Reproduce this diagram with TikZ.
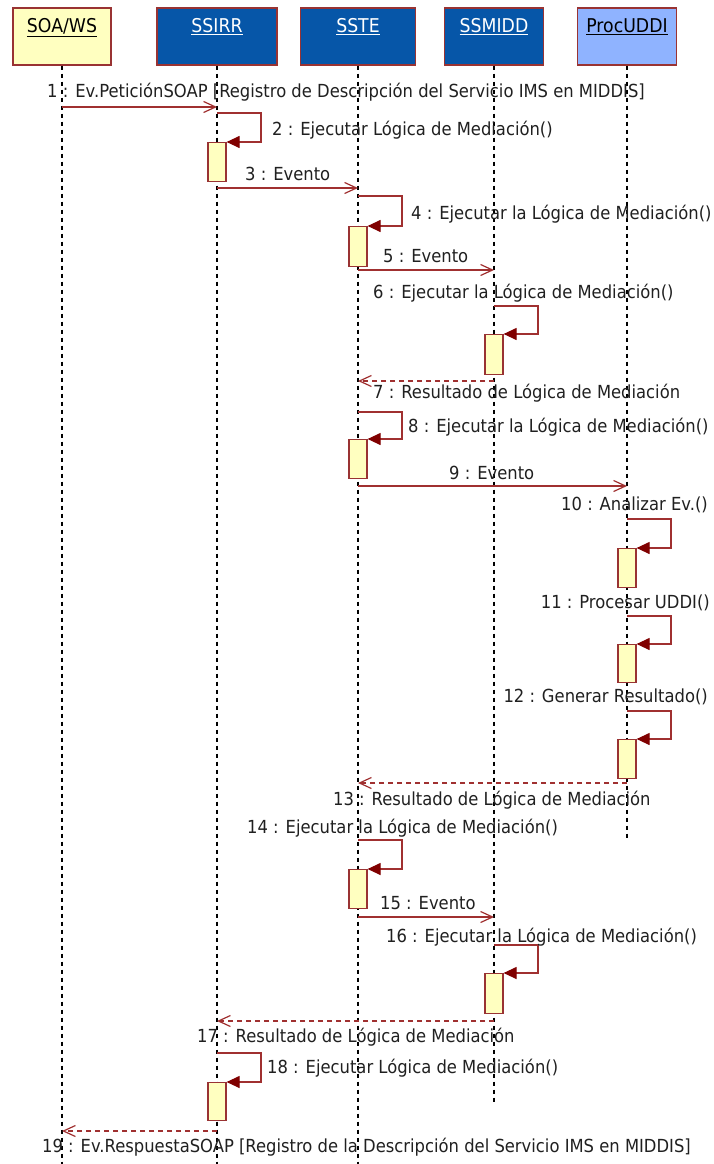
\documentclass[tikz,border=0pt]{standalone}
\usepackage{fontspec}
\setmainfont{DejaVu Sans}[FakeStretch=0.91]
\usetikzlibrary{arrows.meta}

\definecolor{boxline}{HTML}{993333}
\definecolor{msgline}{HTML}{A03030}
\definecolor{tipfill}{HTML}{800000}
\definecolor{actfill}{HTML}{FFFFC0}
\definecolor{navyfill}{HTML}{0656A8}
\definecolor{skyfill}{HTML}{8FB3FF}
\definecolor{labeltext}{HTML}{202020}

\begin{document}
\begin{tikzpicture}[x=1pt,y=-1pt,
  txt/.style={font=\fontsize{18}{20}\selectfont, inner sep=0pt},
  head/.style={draw=boxline, line width=1.2pt, minimum height=57pt, inner sep=0pt},
  headname/.style={font=\fontsize{19}{21}\selectfont, inner sep=0pt, anchor=base},
  lifeline/.style={draw=black, line width=1.1pt, dash pattern=on 4pt off 4pt},
  act/.style={draw=boxline, fill=actfill, line width=1.2pt, minimum width=18pt, inner sep=0pt, anchor=north},
  msg/.style={draw=msgline, line width=1.2pt, -{Straight Barb[length=12pt,width=11pt]}},
  ret/.style={msg, dash pattern=on 5pt off 4pt},
  selfcall/.style={draw=msgline, line width=1.2pt, -{Triangle[length=13pt,width=12pt,color=tipfill,fill=tipfill]}},
  lbl/.style={txt, text=labeltext, anchor=base west},
  lblr/.style={txt, text=labeltext, anchor=base east}]

\useasboundingbox[fill=white] (0,0) rectangle (713,1164);

% ---- object headers ----
\node[head, fill=actfill,  minimum width=98pt]  (soa)    at (62,36.5)  {};
\node[head, fill=navyfill, minimum width=120pt] (ssirr)  at (217,36.5) {};
\node[head, fill=navyfill, minimum width=115pt] (sste)   at (358,36.5) {};
\node[head, fill=navyfill, minimum width=99pt]  (ssmidd) at (494,36.5) {};
\node[head, fill=skyfill,  minimum width=99pt]  (proc)   at (627,36.5) {};

\node[headname]             (soa-name)    at (62,33)  {\underline{SOA/WS}};
\node[headname, text=white] (ssirr-name)  at (217,33) {\underline{SSIRR}};
\node[headname, text=white] (sste-name)   at (358,33) {\underline{SSTE}};
\node[headname, text=white] (ssmidd-name) at (494,33) {\underline{SSMIDD}};
\node[headname]             (proc-name)   at (627,33) {\underline{ProcUDDI}};

% ---- lifelines ----
\coordinate (soa-end)    at (62,1164);
\coordinate (ssirr-end)  at (217,1164);
\coordinate (sste-end)   at (358,1164);
\coordinate (ssmidd-end) at (494,1103);
\coordinate (proc-end)   at (627,838);
\draw[lifeline] (soa.south)    -- (soa-end);
\draw[lifeline] (ssirr.south)  -- (ssirr-end);
\draw[lifeline] (sste.south)   -- (sste-end);
\draw[lifeline] (ssmidd.south) -- (ssmidd-end);
\draw[lifeline] (proc.south)   -- (proc-end);

% ---- activation bars ----
\node[act, minimum height=39pt] (a2)  at (217,142)  {};
\node[act, minimum height=40pt] (a4)  at (358,226)  {};
\node[act, minimum height=40pt] (a6)  at (494,334)  {};
\node[act, minimum height=39pt] (a8)  at (358,439)  {};
\node[act, minimum height=39pt] (a10) at (627,548)  {};
\node[act, minimum height=38pt] (a11) at (627,644)  {};
\node[act, minimum height=39pt] (a12) at (627,739)  {};
\node[act, minimum height=39pt] (a14) at (358,869)  {};
\node[act, minimum height=40pt] (a16) at (494,973)  {};
\node[act, minimum height=38pt] (a18) at (217,1082) {};

% ---- message end points on the lifelines ----
\coordinate (m1a)  at (soa |- 0,107);    \coordinate (m1b)  at (ssirr |- 0,107);
\coordinate (m2)   at (ssirr |- 0,113);
\coordinate (m3a)  at (ssirr |- 0,188);  \coordinate (m3b)  at (sste |- 0,188);
\coordinate (m4)   at (sste |- 0,196);
\coordinate (m5a)  at (sste |- 0,270);   \coordinate (m5b)  at (ssmidd |- 0,270);
\coordinate (m6)   at (ssmidd |- 0,306);
\coordinate (m7a)  at (ssmidd |- 0,381); \coordinate (m7b)  at (sste |- 0,381);
\coordinate (m8)   at (sste |- 0,412);
\coordinate (m9a)  at (sste |- 0,486);   \coordinate (m9b)  at (proc |- 0,486);
\coordinate (m10)  at (proc |- 0,519);
\coordinate (m11)  at (proc |- 0,616);
\coordinate (m12)  at (proc |- 0,711);
\coordinate (m13a) at (proc |- 0,783);   \coordinate (m13b) at (sste |- 0,783);
\coordinate (m14)  at (sste |- 0,840);
\coordinate (m15a) at (sste |- 0,917);   \coordinate (m15b) at (ssmidd |- 0,917);
\coordinate (m16)  at (ssmidd |- 0,945);
\coordinate (m17a) at (ssmidd |- 0,1021); \coordinate (m17b) at (ssirr |- 0,1021);
\coordinate (m18)  at (ssirr |- 0,1053);
\coordinate (m19a) at (ssirr |- 0,1131); \coordinate (m19b) at (soa |- 0,1131);

% ---- messages ----
\draw[msg] (m1a) -- (m1b);
\draw[selfcall] (m2) -- ++(44,0) |- (a2.north east);
\draw[msg] (m3a) -- (m3b);
\draw[selfcall] (m4) -- ++(44,0) |- (a4.north east);
\draw[msg] (m5a) -- (m5b);
\draw[selfcall] (m6) -- ++(44,0) |- (a6.north east);
\draw[ret] (m7a) -- (m7b);
\draw[selfcall] (m8) -- ++(44,0) |- (a8.north east);
\draw[msg] (m9a) -- (m9b);
\draw[selfcall] (m10) -- ++(44,0) |- (a10.north east);
\draw[selfcall] (m11) -- ++(44,0) |- (a11.north east);
\draw[selfcall] (m12) -- ++(44,0) |- (a12.north east);
\draw[ret] (m13a) -- (m13b);
\draw[selfcall] (m14) -- ++(44,0) |- (a14.north east);
\draw[msg] (m15a) -- (m15b);
\draw[selfcall] (m16) -- ++(44,0) |- (a16.north east);
\draw[ret] (m17a) -- (m17b);
\draw[selfcall] (m18) -- ++(44,0) |- (a18.north east);
\draw[ret] (m19a) -- (m19b);

% ---- message labels ----
\node[lbl] (l1)  at (47,97)    {1 : Ev.PeticiónSOAP [Registro de Descripción del Servicio IMS en MIDDIS]};
\node[lbl] (l2)  at (272,135)  {2 : Ejecutar Lógica de Mediación()};
\node[lbl] (l3)  at (245,180)  {3 : Evento};
\node[lbl] (l4)  at (411,219)  {4 : Ejecutar la Lógica de Mediación()};
\node[lbl] (l5)  at (383,262)  {5 : Evento};
\node[lbl] (l6)  at (373,298)  {6 : Ejecutar la Lógica de Mediación()};
\node[lbl] (l7)  at (373,398)  {7 : Resultado de Lógica de Mediación};
\node[lbl] (l8)  at (408,432)  {8 : Ejecutar la Lógica de Mediación()};
\node[lbl] (l9)  at (449,479)  {9 : Evento};
\node[lblr] (l10) at (708,510) {10 : Analizar Ev.()};
\node[lblr] (l11) at (710,608) {11 : Procesar UDDI()};
\node[lblr] (l12) at (708,702) {12 : Generar Resultado()};
\node[lbl] (l13) at (333,805)  {13 : Resultado de Lógica de Mediación};
\node[lbl] (l14) at (247,833)  {14 : Ejecutar la Lógica de Mediación()};
\node[lbl] (l15) at (380,909)  {15 : Evento};
\node[lbl] (l16) at (386,942)  {16 : Ejecutar la Lógica de Mediación()};
\node[lbl] (l17) at (197,1042) {17 : Resultado de Lógica de Mediación};
\node[lbl] (l18) at (267,1073) {18 : Ejecutar Lógica de Mediación()};
\node[lbl] (l19) at (42,1152)  {19 : Ev.RespuestaSOAP [Registro de la Descripción del Servicio IMS en MIDDIS]};
\end{tikzpicture}
\end{document}
